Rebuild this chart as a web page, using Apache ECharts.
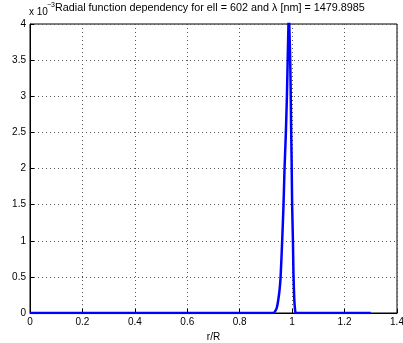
<!DOCTYPE html>
<html>
<head>
<meta charset="utf-8">
<script src="https://cdn.jsdelivr.net/npm/echarts@6/dist/echarts.min.js"></script>
<style>
  html, body { margin: 0; padding: 0; background: #fff; }
  #chart { width: 403px; height: 343px; }
</style>
</head>
<body>
<div id="chart"></div>
<script>
// Radius ratio r/R and radial function values (in units of 1e-3)
const rValues = [0, 0.2, 0.4, 0.6, 0.8, 0.9, 0.928, 0.936, 0.942, 0.947, 0.952, 0.956, 0.962, 0.967,
  0.971, 0.976, 0.980, 0.983, 0.986, 0.9875, 0.989, 0.992, 0.994, 0.996, 0.998, 1.000, 1.003,
  1.005, 1.008, 1.011, 1.014, 1.05, 1.3];
const fValues = [0, 0, 0, 0, 0, 0, 0, 0.03, 0.08, 0.18, 0.32, 0.5, 1.0, 1.49,
  2.0, 2.49, 2.99, 3.5, 4.0, 4.25, 4.0, 3.6, 3.2, 2.6, 2.1, 1.5, 1.0,
  0.55, 0.2, 0.05, 0, 0, 0];
const xTicks = [0, 0.2, 0.4, 0.6, 0.8, 1, 1.2, 1.4];
const yTicks = [0, 0.5, 1, 1.5, 2, 2.5, 3, 3.5, 4];

const titleText = 'Radial function dependency for ell = 602 and \u03bb [nm] = 1479.8985';
const font = 'Liberation Sans, Arial, sans-serif';

const chart = echarts.init(document.getElementById('chart'), null, { renderer: 'canvas' });
chart.setOption({
  animation: false,
  backgroundColor: '#fff',
  grid: {
    left: 30, right: 6, top: 24, bottom: 30,
    outerBoundsMode: 'none', containLabel: false,
    show: true, borderColor: '#000', borderWidth: 1, backgroundColor: 'transparent'
  },
  graphic: [{
    type: 'text', left: 29, top: 7, z: 1,
    style: { text: 'x 10', font: '10px ' + font, fill: '#000' }
  }, {
    type: 'text', left: 47, top: 2, z: 0,
    style: { text: '\u22123', font: '7px ' + font, fill: '#000' }
  }, {
    type: 'text', left: 55, top: 3, z: 2,
    style: { text: titleText, font: '10.8px ' + font, fill: '#000' }
  }],
  xAxis: {
    type: 'value', min: 0, max: 1.4, interval: 0.2,
    name: 'r/R', nameLocation: 'middle', nameGap: 17,
    nameTextStyle: { fontFamily: font, fontSize: 10, color: '#000' },
    axisLine: { show: true, onZero: false, lineStyle: { color: '#000', width: 1 } },
    axisTick: { show: true, inside: true, length: 4, lineStyle: { color: '#000' } },
    axisLabel: {
      fontFamily: font, fontSize: 10, color: '#000', margin: 4,
      formatter: v => xTicks.includes(+v.toFixed(1)) ? String(+v.toFixed(1)) : ''
    },
    splitLine: { show: true, lineStyle: { color: '#555', type: [1, 3], width: 1 } }
  },
  yAxis: {
    type: 'value', min: 0, max: 4, interval: 0.5,
    axisLine: { show: true, onZero: false, lineStyle: { color: '#000', width: 1 } },
    axisTick: { show: true, inside: true, length: 4, lineStyle: { color: '#000' } },
    axisLabel: {
      fontFamily: font, fontSize: 10, color: '#000', margin: 4,
      formatter: v => yTicks.includes(+v.toFixed(1)) ? String(+v.toFixed(1)) : ''
    },
    splitLine: { show: true, lineStyle: { color: '#555', type: [1, 3], width: 1 } }
  },
  series: [{
    type: 'line',
    data: rValues.map((r, i) => [r, fValues[i]]),
    showSymbol: false,
    smooth: 0.2,
    clip: true,
    lineStyle: { color: '#0000ff', width: 2.5 },
    itemStyle: { color: '#0000ff' }
  }]
});
</script>
</body>
</html>
